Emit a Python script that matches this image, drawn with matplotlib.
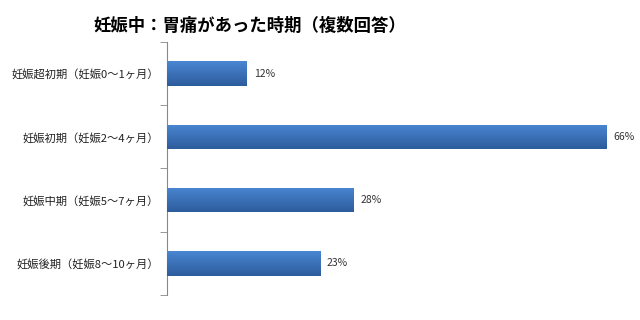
import matplotlib
matplotlib.use("Agg")
import matplotlib.pyplot as plt
import numpy as np
from matplotlib.colors import LinearSegmentedColormap

plt.rcParams['font.family'] = ['Noto Sans CJK JP', 'DejaVu Sans']

title = "妊娠中：胃痛があった時期（複数回答）"
categories = ["妊娠超初期（妊娠0～1ヶ月）", "妊娠初期（妊娠2～4ヶ月）",
              "妊娠中期（妊娠5～7ヶ月）", "妊娠後期（妊娠8～10ヶ月）"]
values = [12, 66, 28, 23]
value_labels = ["12%", "66%", "28%", "23%"]

fig = plt.figure(figsize=(6.4, 3.2), dpi=100)
ax = fig.add_axes([0.261, 0.078, 0.729, 0.791])

y = np.arange(len(categories))
bars = ax.barh(y, values, height=0.39, color='#3a6fbd', edgecolor='none', zorder=2)

grad = np.linspace(0, 1, 64).reshape(-1, 1)
cmap = LinearSegmentedColormap.from_list('g', ['#4a86d2', '#2d5c9c'])
for b in bars:
    x0, y0 = b.get_x(), b.get_y()
    w, h = b.get_width(), b.get_height()
    im = ax.imshow(grad, cmap=cmap, aspect='auto', extent=[x0, x0 + w, y0 + h, y0],
                   origin='upper', zorder=3)
    im.set_clip_path(b)

ax.set_xlim(0, 70)
ax.set_ylim(len(categories) - 0.5, -0.5)
ax.set_yticks(y)
ax.set_yticklabels(categories, fontsize=8.1, color='#222222')
ax.set_yticks(np.arange(len(categories) + 1) - 0.5, minor=True)
ax.tick_params(axis='y', which='major', length=0, pad=6)
ax.tick_params(axis='y', which='minor', length=5, color='#888888', direction='out')
ax.set_xticks([])
for s in ['top', 'right', 'bottom']:
    ax.spines[s].set_visible(False)
ax.spines['left'].set_color('#888888')
ax.spines['left'].set_linewidth(0.8)

for yi, v, lab in zip(y, values, value_labels):
    ax.text(v + 1.0, yi, lab, va='center', ha='left', fontsize=7.5, color='#333333')

fig.text(0.39, 0.92, title, ha='center', va='center', fontsize=12.5, fontweight='bold')

fig.savefig("out.png", dpi=100)
